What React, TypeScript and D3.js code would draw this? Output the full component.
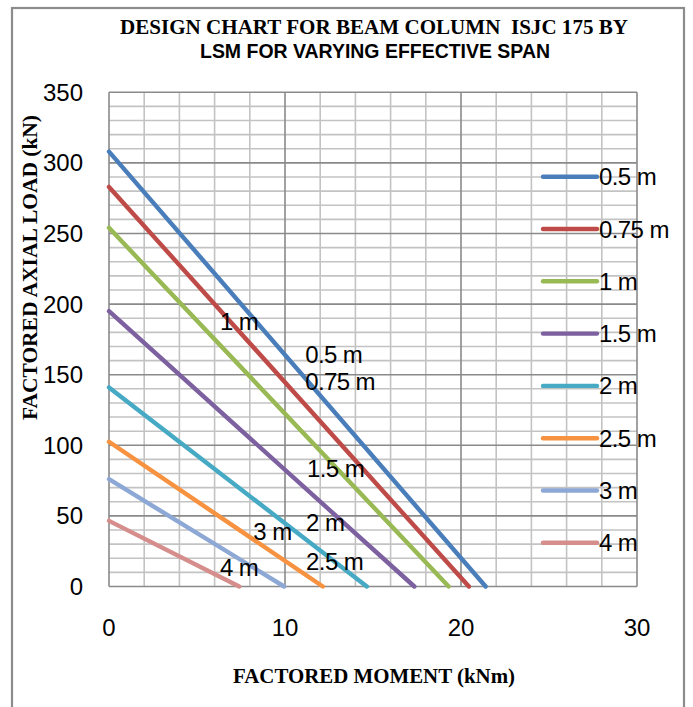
import React from "react";
import * as d3 from "d3";

// Effective spans plotted as separate interaction lines
const spans = ["0.5 m", "0.75 m", "1 m", "1.5 m", "2 m", "2.5 m", "3 m", "4 m"];
// Factored axial load capacity at zero moment (kN)
const axialAtZeroMoment = [308, 283, 254, 195, 141, 102.5, 76, 46.5];
// Factored moment capacity at zero axial load (kNm)
const momentAtZeroAxial = [21.4, 20.45, 19.3, 17.35, 14.65, 12.15, 9.95, 7.4];

const xTicks = [0, 10, 20, 30];
const yTicks = [0, 50, 100, 150, 200, 250, 300, 350];

const colors = ["#4A7EBB", "#BE4B48", "#98B954", "#7D60A0", "#46AAC5", "#F69240", "#8EA8D6", "#D68E8C"];

// In-plot span labels, anchored in data units (moment, load)
const labelSpans = ["1 m", "0.5 m", "0.75 m", "1.5 m", "2 m", "3 m", "2.5 m", "4 m"];
const labelX = [6.3, 11.15, 11.15, 11.25, 11.2, 8.2, 11.2, 6.3];
const labelY = [182, 158.5, 139.5, 77.5, 39, 33, 12, 7.5];

const W = 693;
const H = 707;

export default function App() {
  const x = d3.scaleLinear().domain([0, 30]).range([109, 637]);
  const y = d3.scaleLinear().domain([0, 350]).range([586.5, 92.3]);

  const line = d3
    .line<[number, number]>()
    .x((d) => x(d[0]))
    .y((d) => y(d[1]));

  const series = spans.map((name, i) => ({
    name,
    color: colors[i],
    points: [
      [0, axialAtZeroMoment[i]],
      [momentAtZeroAxial[i], 0],
    ] as [number, number][],
  }));

  const vMinor = d3.range(0, 31, 2).filter((v) => v % 10 !== 0);
  const hMinor = d3.range(0, 351, 10).filter((v) => v % 50 !== 0);

  const tickFont = "'Liberation Sans', Arial, sans-serif";
  const serif = "'Liberation Serif', 'Times New Roman', serif";

  const legendTop = 176.7;
  const legendStep = 52.3;

  return (
    <svg
      width={W}
      height={H}
      style={{ position: "absolute", left: 0, top: 0, display: "block" }}
    >
      <rect x={0} y={0} width={W} height={H} fill="#fff" />
      <rect x={12} y={8} width={672} height={720} fill="none" stroke="#8c8c8c" strokeWidth={2.2} />

      {/* title */}
      <text
        x={374}
        y={34}
        textAnchor="middle"
        fontFamily={serif}
        fontWeight="bold"
        fontSize={22}
        textLength={508}
        lengthAdjust="spacingAndGlyphs"
        fill="#000"
        style={{ whiteSpace: "pre" }}
      >
        DESIGN CHART FOR BEAM COLUMN  ISJC 175 BY
      </text>
      <text
        x={375}
        y={58}
        textAnchor="middle"
        fontFamily={tickFont}
        fontWeight="bold"
        fontSize={20}
        textLength={350}
        lengthAdjust="spacingAndGlyphs"
        fill="#000"
      >
        LSM FOR VARYING EFFECTIVE SPAN
      </text>

      {/* grid */}
      <g>
        {vMinor.map((v) => (
          <line key={"vm" + v} x1={x(v)} x2={x(v)} y1={y(0)} y2={y(350)} stroke="#c3c3c3" strokeWidth={1.6} />
        ))}
        {hMinor.map((v) => (
          <line key={"hm" + v} x1={x(0)} x2={x(30)} y1={y(v)} y2={y(v)} stroke="#c3c3c3" strokeWidth={1.6} />
        ))}
        {xTicks.map((v) => (
          <line key={"vM" + v} x1={x(v)} x2={x(v)} y1={y(0)} y2={y(350)} stroke="#8a8a8a" strokeWidth={1.6} />
        ))}
        {yTicks.map((v) => (
          <line key={"hM" + v} x1={x(0)} x2={x(30)} y1={y(v)} y2={y(v)} stroke="#8a8a8a" strokeWidth={1.6} />
        ))}
      </g>

      {/* tick labels */}
      {yTicks.map((v) => (
        <text key={"yt" + v} x={83} y={y(v) + 8.5} textAnchor="end" fontFamily={tickFont} fontSize={24} fill="#000">
          {v}
        </text>
      ))}
      {xTicks.map((v) => (
        <text key={"xt" + v} x={x(v)} y={636} textAnchor="middle" fontFamily={tickFont} fontSize={24} fill="#000">
          {v}
        </text>
      ))}

      {/* axis titles */}
      <text
        x={374}
        y={683}
        textAnchor="middle"
        fontFamily={serif}
        fontWeight="bold"
        fontSize={20}
        textLength={282}
        lengthAdjust="spacingAndGlyphs"
        fill="#000"
      >
        FACTORED MOMENT (kNm)
      </text>
      <text
        transform={`translate(37,267.5) rotate(-90)`}
        textAnchor="middle"
        fontFamily={serif}
        fontWeight="bold"
        fontSize={20}
        textLength={305}
        lengthAdjust="spacingAndGlyphs"
        fill="#000"
      >
        FACTORED AXIAL LOAD (kN)
      </text>

      {/* series */}
      {series.map((s) => (
        <path
          key={s.name}
          d={line(s.points) || ""}
          fill="none"
          stroke={s.color}
          strokeWidth={4.4}
          strokeLinecap="round"
        />
      ))}

      {/* span labels on the lines */}
      {labelSpans.map((t, i) => (
        <text key={"lab" + i} x={x(labelX[i])} y={y(labelY[i])} fontFamily={tickFont} fontSize={24} fill="#000" letterSpacing={-0.6}>
          {t}
        </text>
      ))}

      {/* legend */}
      {series.map((s, i) => {
        const cy = legendTop + legendStep * i;
        return (
          <g key={"lg" + s.name}>
            <line x1={543} x2={597} y1={cy} y2={cy} stroke={s.color} strokeWidth={4.4} strokeLinecap="round" />
            <text x={599} y={cy + 8.5} fontFamily={tickFont} fontSize={24} fill="#000" letterSpacing={-0.6}>
              {s.name}
            </text>
          </g>
        );
      })}
    </svg>
  );
}
